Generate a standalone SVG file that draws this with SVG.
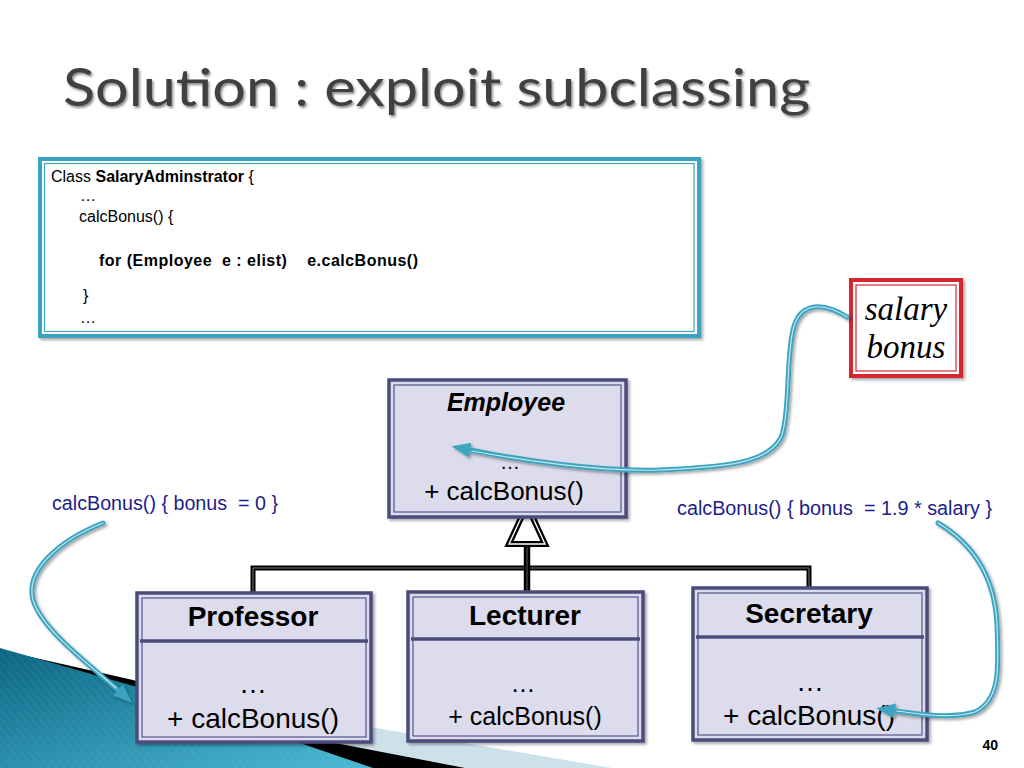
<svg xmlns="http://www.w3.org/2000/svg" width="1024" height="768" viewBox="0 0 1024 768">
<defs>
<style>
.sans{font-family:"Liberation Sans",Arial,sans-serif}
.code{font-family:"Liberation Sans",Arial,sans-serif;font-size:16px;fill:#000}
.box{fill:#dcdcec;stroke:#4b4b7c;stroke-width:3.5}
.inner{fill:none;stroke:#55558a;stroke-width:1.2}
.div{stroke:#4b4b7c;stroke-width:3.5}
.hdr{font-family:"Liberation Sans",Arial,sans-serif;font-weight:bold;font-size:28px;fill:#000;text-anchor:middle}
.mem{font-family:"Liberation Sans",Arial,sans-serif;fill:#000;text-anchor:middle}
.lbl{font-family:"Liberation Sans",Arial,sans-serif;font-size:20px;fill:#1c1c8e}
.gen{fill:none;stroke:#000;stroke-width:5}
.genw{fill:none;stroke:#9a9a9a;stroke-width:0.8}
.arr{fill:none;stroke:#3ca4c0;stroke-width:5;stroke-linecap:round}
.arrw{fill:none;stroke:#c4e8f1;stroke-width:1.2;stroke-linecap:round}
</style>
<filter id="sh" x="-10%" y="-10%" width="130%" height="130%">
<feDropShadow dx="2" dy="2" stdDeviation="1.5" flood-color="#000" flood-opacity="0.35"/>
</filter>
<filter id="tsh" x="-5%" y="-20%" width="110%" height="150%">
<feDropShadow dx="1.5" dy="2" stdDeviation="1.2" flood-color="#000" flood-opacity="0.45"/>
</filter>
<linearGradient id="teal" x1="0" y1="0" x2="1" y2="1">
<stop offset="0" stop-color="#0b6582"/>
<stop offset="1" stop-color="#4cbad5"/>
</linearGradient>
<pattern id="stripes" width="6" height="6" patternUnits="userSpaceOnUse" patternTransform="rotate(-40)">
<rect width="6" height="6" fill="none"/>
<line x1="0" y1="0" x2="0" y2="6" stroke="#ffffff" stroke-width="1.5" stroke-opacity="0.08"/>
</pattern>
<marker id="ah" markerUnits="userSpaceOnUse" markerWidth="22" markerHeight="18" viewBox="0 -9 22 18" refX="0" refY="0" orient="auto">
<path d="M0,-7.5 L19,0 L0,7.5 z" fill="#3ca4c0"/>
</marker>
</defs>

<rect width="1024" height="768" fill="#fff"/>

<g id="decoration">
<polygon points="0,664 612,768 0,768" fill="#cde1ea"/>
<polygon points="0,650 133,680 330,742 465,768 0,768" fill="#000"/>
<polygon points="0,648 137,687 373,768 0,768" fill="url(#teal)"/>
<polygon points="0,648 137,687 373,768 0,768" fill="url(#stripes)"/>
</g>

<text id="title" x="63" y="106" font-family="Lato,'DejaVu Sans',sans-serif" font-size="52" fill="#404040" textLength="747" lengthAdjust="spacingAndGlyphs" filter="url(#tsh)">Solution : exploit subclassing</text>

<g id="code-box">
<rect x="40" y="159" width="659" height="177" fill="#fff" stroke="#3aa3bf" stroke-width="4" filter="url(#sh)"/>
<rect x="44.5" y="163.5" width="649.5" height="168" fill="none" stroke="#3aa3bf" stroke-width="1.2"/>
<text class="code" x="51" y="182">Class <tspan font-weight="bold">SalaryAdminstrator</tspan> {</text>
<text class="code" x="80" y="201">…</text>
<text class="code" x="79" y="222">calcBonus() {</text>
<text class="code" x="99" y="266" font-weight="bold" xml:space="preserve" textLength="319">for (Employee  e : elist)    e.calcBonus()</text>
<text class="code" x="83" y="301">}</text>
<text class="code" x="80" y="323">…</text>
</g>

<g id="salary-bonus">
<rect x="851" y="280" width="110" height="96" fill="#fff" stroke="#d6262f" stroke-width="4" filter="url(#sh)"/>
<rect x="856" y="285" width="100" height="86" fill="none" stroke="#d6262f" stroke-width="1.2"/>
<text x="906" y="320" font-family="'Liberation Serif','Times New Roman',serif" font-style="italic" font-size="33" text-anchor="middle">salary</text>
<text x="906" y="358" font-family="'Liberation Serif','Times New Roman',serif" font-style="italic" font-size="33" text-anchor="middle">bonus</text>
</g>

<g id="connectors">
<path class="gen" d="M253,593 V568 H809 V588"/>
<path class="genw" d="M253,593 V568 H809 V588"/>
<path d="M527,544 V592" fill="none" stroke="#000" stroke-width="6.5"/>
<path d="M527,546 V592" fill="none" stroke="#777" stroke-width="0.8"/>
<polygon points="527,505 545,544 509,544" fill="#fff" stroke="#000" stroke-width="6" stroke-linejoin="miter"/>
<polygon points="527,505 545,544 509,544" fill="none" stroke="#fff" stroke-width="1.4"/>
</g>

<g id="employee">
<rect class="box" x="389" y="380" width="237" height="137" filter="url(#sh)"/>
<rect class="inner" x="394" y="385" width="227" height="127"/>
<text x="506" y="411" font-family="'Liberation Sans',Arial,sans-serif" font-weight="bold" font-style="italic" font-size="25" text-anchor="middle">Employee</text>
<line class="div" x1="408" y1="424" x2="637" y2="424" filter="url(#sh)"/>
<text class="mem" x="510" y="469" font-size="20">…</text>
<text class="mem" x="504" y="500" font-size="26">+ calcBonus()</text>
</g>

<g id="professor">
<rect class="box" x="137" y="593" width="234" height="149" filter="url(#sh)"/>
<rect class="inner" x="142" y="598" width="224" height="139"/>
<line class="div" x1="140" y1="641" x2="368" y2="641"/>
<text class="hdr" x="253" y="626">Professor</text>
<text class="mem" x="253" y="693" font-size="28">…</text>
<text class="mem" x="253" y="728" font-size="28">+ calcBonus()</text>
</g>

<g id="lecturer">
<rect class="box" x="408" y="592" width="235" height="149" filter="url(#sh)"/>
<rect class="inner" x="413" y="597" width="225" height="139"/>
<line class="div" x1="411" y1="639" x2="640" y2="639"/>
<text class="hdr" x="525" y="625">Lecturer</text>
<text class="mem" x="523" y="692" font-size="25">…</text>
<text class="mem" x="525" y="725" font-size="25">+ calcBonus()</text>
</g>

<g id="secretary">
<rect class="box" x="693" y="588" width="234" height="152" filter="url(#sh)"/>
<rect class="inner" x="698" y="593" width="224" height="142"/>
<line class="div" x1="696" y1="637" x2="924" y2="637"/>
<text class="hdr" x="809" y="623">Secretary</text>
<text class="mem" x="810" y="691" font-size="28">…</text>
<text class="mem" x="809" y="725" font-size="28">+ calcBonus()</text>
</g>

<text id="label-professor" class="lbl" x="52" y="510" textLength="226" lengthAdjust="spacingAndGlyphs" xml:space="preserve">calcBonus() { bonus  = 0 }</text>
<text id="label-secretary" class="lbl" x="677" y="515" textLength="315" lengthAdjust="spacingAndGlyphs" xml:space="preserve">calcBonus() { bonus  = 1.9 * salary }</text>

<g id="annotation-arrows" filter="url(#sh)">
<path class="arr" marker-end="url(#ah)" d="M847,317 C825,303 800,300 793,330 C786,360 790,410 782,435 C770,465 720,467 660,470 C600,472 520,460 470,450"/>
<path class="arrw" d="M847,317 C825,303 800,300 793,330 C786,360 790,410 782,435 C770,465 720,467 660,470 C600,472 520,460 472,451"/>
<path class="arr" marker-end="url(#ah)" d="M103,523 C60,540 25,570 33,600 C42,630 90,665 118,690"/>
<path class="arrw" d="M103,523 C60,540 25,570 33,600 C42,630 90,665 116,688"/>
<path class="arr" marker-end="url(#ah)" d="M938,523 C975,545 995,580 997,625 C999,670 1000,700 975,712 C955,718 930,716 895,711"/>
<path class="arrw" d="M938,523 C975,545 995,580 997,625 C999,670 1000,700 975,712 C955,718 930,716 897,711"/>
</g>

<text id="page-number" x="998" y="750" font-family="'Liberation Sans',Arial,sans-serif" font-weight="bold" font-size="14" text-anchor="end">40</text>
</svg>
